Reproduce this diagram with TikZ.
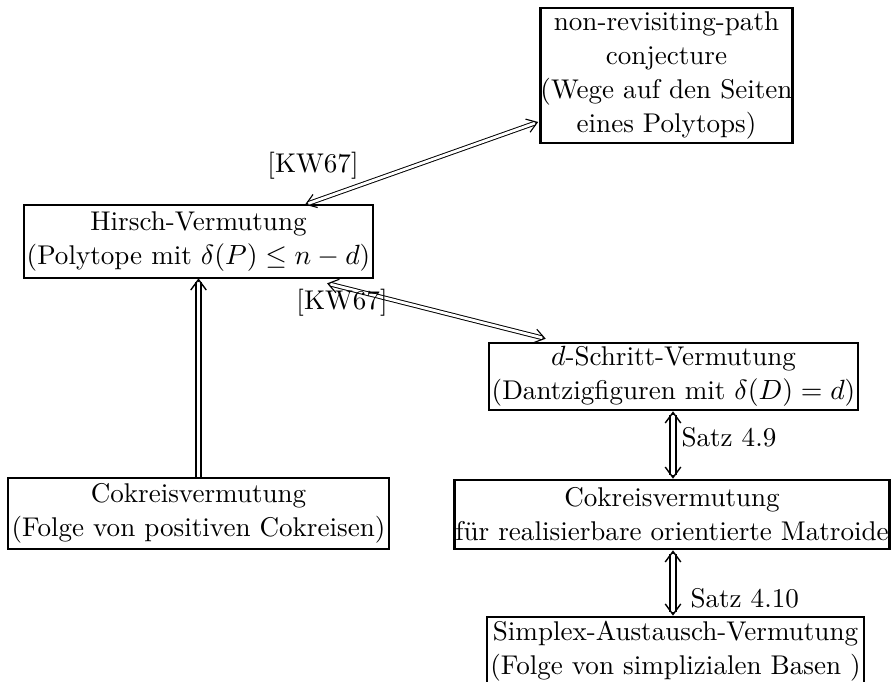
\documentclass[tikz,border=0pt]{standalone}
\usetikzlibrary{arrows.meta,calc}
\begin{document}
\begin{tikzpicture}[x=0.36pt,y=-0.36pt,
  font=\fontsize{9.75}{12.2}\selectfont,
  box/.style={draw, line width=0.95pt, inner sep=0pt, align=center},
  dblthin/.style={double, line width=0.35pt, double distance=1.0pt},
  dblthick/.style={double, line width=0.75pt, double distance=1.1pt},
  tipthin/.style={line width=0.4pt, -{Straight Barb[length=3.6pt,width=5pt]}},
  tipthick/.style={line width=0.5pt, -{Straight Barb[length=3.8pt,width=5.6pt]}},
  lab/.style={inner sep=0pt}]
\useasboundingbox (0,0) rectangle (891,682);
\clip (0,0) rectangle (891,682);

\node[box, minimum width=88.9pt, minimum height=48.6pt] (top) at (666.5,75.5)
  {non-revisiting-path\\conjecture\\(Wege auf den Seiten\\eines Polytops)};
\node[box, minimum width=125.6pt, minimum height=26.3pt] (hirsch) at (198.5,241.5)
  {Hirsch-Vermutung\\(Polytope mit $\delta(P)\leq n-d$)};
\node[box, minimum width=132.8pt, minimum height=24.1pt] (dschritt) at (673.5,376.5)
  {$d$-Schritt-Vermutung\\(Dantzigfiguren mit $\delta(D)=d$)};
\node[box, minimum width=137.2pt, minimum height=25.6pt] (cokl) at (198.5,513.5)
  {Cokreisvermutung\\(Folge von positiven Cokreisen)};
\node[box, minimum width=156.6pt, minimum height=24.8pt] (cokr) at (672,514.5)
  {Cokreisvermutung\\f\"ur realisierbare orientierte Matroide};
\node[box, minimum width=135.7pt, minimum height=24.5pt] (simplex) at (675.5,651)
  {Simplex-Austausch-Vermutung\\(Folge von simplizialen Basen )};

% diagonal 1
\coordinate (a1s) at ($(hirsch.north)+(106.5,1)$);
\coordinate (a1e) at ($(top.west)+(-1,46.5)$);
\draw[dblthin, shorten <=1.2pt, shorten >=1.2pt] (a1s) -- (a1e);
\draw[tipthin] ($(a1s)!1.2pt!(a1e)$) -- (a1s);
\draw[tipthin] ($(a1e)!1.2pt!(a1s)$) -- (a1e);
\node[lab] (k1) at (313,166) {[KW67]};

% diagonal 2
\coordinate (a2s) at ($(hirsch.south)+(128.5,4)$);
\coordinate (a2e) at ($(dschritt.north west)+(58,-3)$);
\draw[dblthin, shorten <=1.2pt, shorten >=1.2pt] (a2s) -- (a2e);
\draw[tipthin] ($(a2s)!1.2pt!(a2e)$) -- (a2s);
\draw[tipthin] ($(a2e)!1.2pt!(a2s)$) -- (a2e);
\node[lab] (k2) at (342,303) {[KW67]};

% left vertical
\coordinate (a3e) at ($(hirsch.south)+(0,-1)$);
\draw[dblthick, shorten >=1.4pt] (cokl.north) -- (a3e);
\draw[tipthick] ($(a3e)!1.4pt!(cokl.north)$) -- (a3e);

% Satz 4.9
\coordinate (a4s) at ($(dschritt.south)+(-0.5,0)$);
\coordinate (a4e) at (a4s |- cokr.north);
\draw[dblthick, shorten <=1.4pt, shorten >=1.4pt] (a4s) -- (a4e);
\draw[tipthick] ($(a4s)!1.4pt!(a4e)$) -- (a4s);
\draw[tipthick] ($(a4e)!1.4pt!(a4s)$) -- (a4e);
\node[lab, anchor=west] (s49) at (681,437) {Satz 4.9};

% Satz 4.10
\coordinate (a5s) at (a4s |- cokr.south);
\coordinate (a5e) at (a4s |- simplex.north);
\draw[dblthick, shorten <=1.4pt, shorten >=1.4pt] (a5s) -- (a5e);
\draw[tipthick] ($(a5s)!1.4pt!(a5e)$) -- (a5s);
\draw[tipthick] ($(a5e)!1.4pt!(a5s)$) -- (a5e);
\node[lab, anchor=west] (s410) at (690,598) {Satz 4.10};
\end{tikzpicture}
\end{document}
